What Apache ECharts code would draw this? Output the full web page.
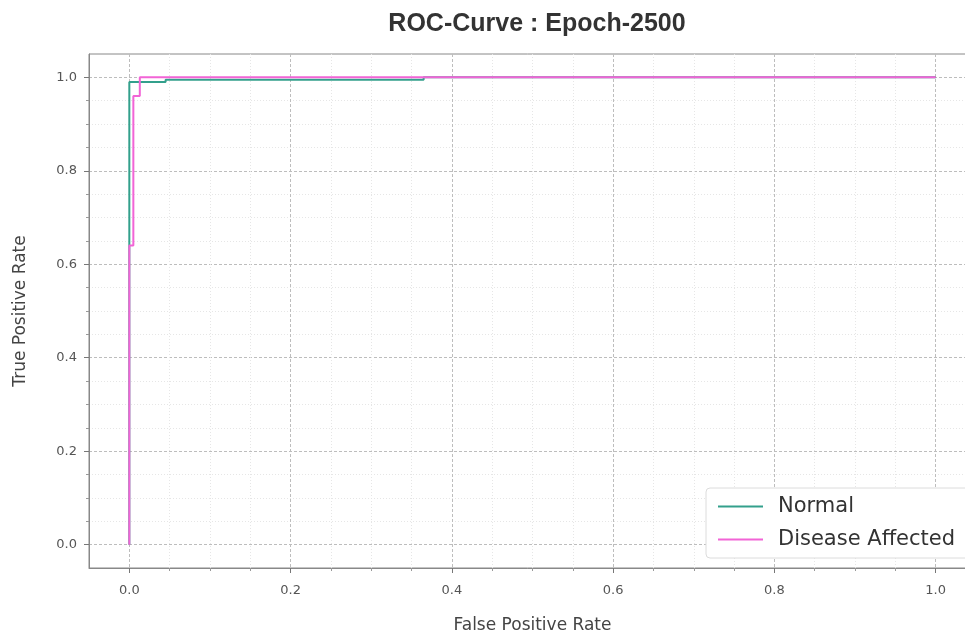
<!DOCTYPE html>
<html>
<head>
<meta charset="utf-8">
<title>ROC-Curve</title>
<script src="https://cdn.jsdelivr.net/npm/echarts@6/dist/echarts.min.js"></script>
<style>
    html, body { margin: 0; padding: 0; background: #fff; }
    #chart { width: 965px; height: 633px; }
</style>
</head>
<body>
<div id="chart"></div>
<script>
// ROC 曲线数据
var seriesNames = ['Normal', 'Disease Affected']
var fprNormal = [0, 0, 0.045, 0.045, 0.365, 0.365, 1.0]
var tprNormal = [0, 0.99, 0.99, 0.995, 0.995, 1.0, 1.0]
var fprDisease = [0, 0, 0.005, 0.005, 0.013, 0.013, 1.0]
var tprDisease = [0, 0.64, 0.64, 0.96, 0.96, 1.0, 1.0]

// 刻度
var majorTicks = [0, 0.2, 0.4, 0.6, 0.8, 1.0]
var minorTicks = [0.05, 0.1, 0.15, 0.25, 0.3, 0.35, 0.45, 0.5, 0.55, 0.65, 0.7, 0.75, 0.85, 0.9, 0.95]

function pairs(xs, ys) {
    return xs.map(function (x, i) { return [x, ys[i]] })
}

var labelFont = 'DejaVu Sans'

function majorAxis(pos, name, nameGap, labelMargin) {
    return {
        type: 'value',
        position: pos,
        min: -0.05,
        max: 1.05,
        name: name,
        nameLocation: 'middle',
        nameGap: nameGap,
        nameTextStyle: { color: '#444', fontSize: 17, fontFamily: labelFont },
        axisLine: { show: true, onZero: false, lineStyle: { color: '#888', width: 1 } },
        axisTick: { show: true, customValues: majorTicks, length: 5, lineStyle: { color: '#777' } },
        axisLabel: {
            customValues: majorTicks,
            margin: labelMargin,
            color: '#555',
            fontSize: 13,
            fontFamily: labelFont,
            formatter: function (v) { return v.toFixed(1) },
        },
        splitLine: { show: true, lineStyle: { color: '#bdbdbd', type: [3, 2], width: 1 } },
    }
}

function minorAxis(pos) {
    return {
        type: 'value',
        position: pos,
        min: -0.05,
        max: 1.05,
        axisLine: { show: false, onZero: false },
        axisTick: { show: true, customValues: minorTicks, length: 3, lineStyle: { color: '#999' } },
        axisLabel: { show: false },
        splitLine: { show: true, lineStyle: { color: '#e6e6e6', type: [1, 2], width: 1 } },
    }
}

var chart = echarts.init(document.getElementById('chart'))
var option = {
    animation: false,
    backgroundColor: '#fff',
    title: {
        text: 'ROC-Curve : Epoch-2500',
        left: 532,
        top: 7,
        textAlign: 'center',
        textStyle: { color: '#333', fontSize: 25, fontWeight: 'bold', fontFamily: 'Liberation Sans' },
    },
    grid: {
        show: true,
        left: 89,
        top: 54,
        right: -11,
        bottom: 65,
        borderColor: '#888',
        borderWidth: 1,
        outerBoundsMode: 'none',
    },
    legend: {
        data: seriesNames,
        orient: 'vertical',
        left: 706,
        top: 488,
        padding: [8, 14, 8, 12],
        icon: 'rect',
        itemWidth: 45,
        itemHeight: 2,
        itemGap: 12,
        backgroundColor: '#fff',
        borderColor: '#dcdcdc',
        borderWidth: 1,
        borderRadius: 4,
        textStyle: { color: '#333', fontSize: 21, fontFamily: labelFont, padding: [0, 0, 0, 10] },
    },
    xAxis: [majorAxis('bottom', 'False Positive Rate', 49, 16), minorAxis('bottom')],
    yAxis: [majorAxis('left', 'True Positive Rate', 60, 12), minorAxis('left')],
    series: [
        {
            name: seriesNames[0],
            type: 'line',
            symbol: 'none',
            xAxisIndex: 0,
            yAxisIndex: 0,
            lineStyle: { color: '#33a08c', width: 2 },
            itemStyle: { color: '#33a08c' },
            data: pairs(fprNormal, tprNormal),
        },
        {
            name: seriesNames[1],
            type: 'line',
            symbol: 'none',
            xAxisIndex: 0,
            yAxisIndex: 0,
            lineStyle: { color: '#f264d6', width: 2 },
            itemStyle: { color: '#f264d6' },
            data: pairs(fprDisease, tprDisease),
        },
    ],
}
option && chart.setOption(option)
</script>
</body>
</html>
